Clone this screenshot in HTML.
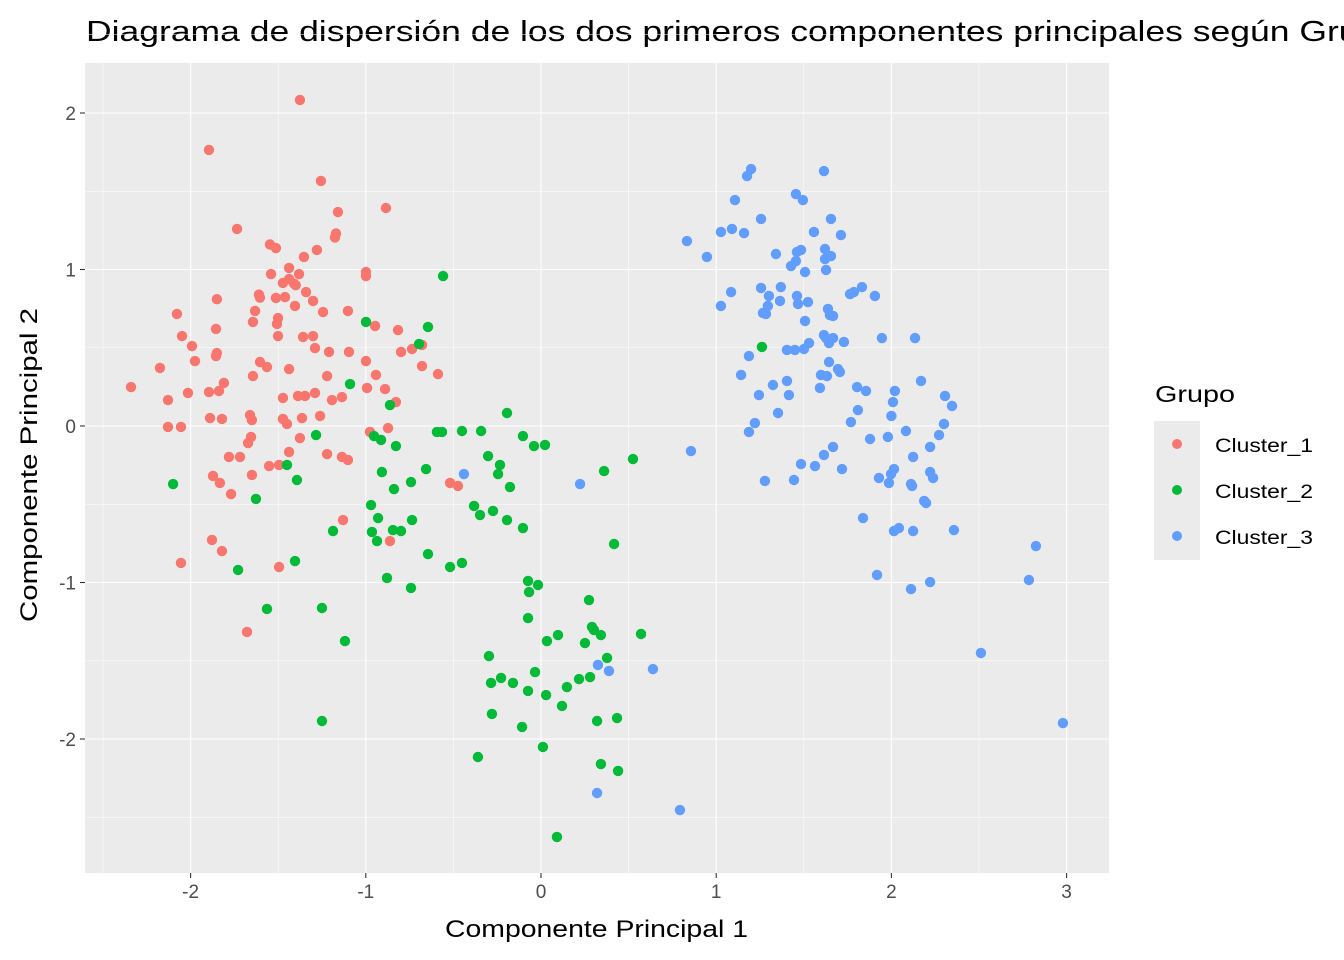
<!DOCTYPE html>
<html><head><meta charset="utf-8"><style>
html,body{margin:0;padding:0;background:#fff;width:1344px;height:960px;overflow:hidden}
svg{display:block;font-family:"Liberation Sans",sans-serif}
</style></head><body>
<svg id="chart" width="1344" height="960">
<text x="86" y="41" font-size="29" textLength="1312" lengthAdjust="spacingAndGlyphs" fill="#000">Diagrama de dispersión de los dos primeros componentes principales según Grupo</text>
<rect x="85" y="63" width="1024" height="810" fill="#ebebeb"/>
<g id="grid"></g>
<g id="points"></g>
<g id="axes"></g>
<text x="445" y="937" font-size="24" textLength="303" lengthAdjust="spacingAndGlyphs">Componente Principal 1</text>
<text transform="translate(37,622) rotate(-90)" font-size="24" textLength="314" lengthAdjust="spacingAndGlyphs">Componente Principal 2</text>
<g>
<text x="1155" y="402" font-size="23" textLength="80" lengthAdjust="spacingAndGlyphs">Grupo</text>
<rect x="1154" y="421" width="46" height="139" fill="#ebebeb"/>
<circle cx="1177" cy="444" r="5" fill="#F8766D"/>
<circle cx="1177" cy="490" r="5" fill="#00BA38"/>
<circle cx="1177" cy="536" r="5" fill="#619CFF"/>
<text x="1215" y="452" font-size="19" textLength="98" lengthAdjust="spacingAndGlyphs">Cluster_1</text>
<text x="1215" y="498" font-size="19" textLength="98" lengthAdjust="spacingAndGlyphs">Cluster_2</text>
<text x="1215" y="544" font-size="19" textLength="98" lengthAdjust="spacingAndGlyphs">Cluster_3</text>
</g>
</svg>
<script>
const xTicks=[-2,-1,0,1,2,3];
const yTicks=[-2,-1,0,1,2];
const c1x=[-1.376,-1.895,-1.256,-0.885,-1.159,-1.735,-1.17,-1.176,-1.547,-1.513,-1.279,-1.353,-0.999,-0.999,-1.541,-1.438,-1.381,-1.438,-1.473,-1.41,-1.4,-1.61,-1.604,-1.85,-1.513,-1.461,-1.341,-1.301,-1.404,-1.244,-1.102,-1.632,-1.644,-1.501,-1.507,-2.078,-1.855,-2.049,-0.947,-0.816,-1.501,-1.358,-1.301,-1.992,-1.85,-1.855,-1.29,-1.21,-1.096,-0.799,-0.736,-0.679,-1.975,-1.604,-1.564,-1.438,-0.999,-0.679,-0.588,-2.175,-2.34,-2.015,-1.895,-1.838,-1.81,-1.644,-1.221,-0.942,-1.29,-1.387,-1.347,-1.136,-1.193,-0.89,-0.993,-1.473,-2.129,-0.828,-1.889,-1.821,-1.473,-1.364,-1.261,-1.661,-1.65,-1.45,-2.129,-2.055,-0.873,-0.976,-1.376,-1.655,-1.672,-1.438,-1.221,-1.781,-1.718,-1.136,-1.102,-1.495,-1.552,-1.65,-1.872,-1.833,-0.519,-0.474,-1.769,-1.13,-0.862,-1.878,-1.821,-2.055,-1.495,-1.678];
const c1y=[2.083,1.764,1.566,1.393,1.367,1.259,1.23,1.205,1.16,1.137,1.125,1.08,0.984,0.958,0.971,1.01,0.971,0.939,0.914,0.91,0.9,0.84,0.82,0.81,0.818,0.824,0.856,0.799,0.767,0.728,0.735,0.735,0.665,0.69,0.652,0.716,0.62,0.575,0.639,0.613,0.575,0.569,0.575,0.511,0.466,0.447,0.498,0.473,0.473,0.473,0.492,0.518,0.415,0.409,0.377,0.364,0.415,0.383,0.332,0.371,0.249,0.211,0.217,0.224,0.275,0.319,0.319,0.326,0.211,0.192,0.192,0.185,0.166,0.236,0.243,0.179,0.166,0.153,0.051,0.045,0.045,0.051,0.064,0.07,0.038,0.013,-0.006,-0.006,-0.013,-0.038,-0.077,-0.07,-0.109,-0.166,-0.179,-0.198,-0.198,-0.198,-0.217,-0.249,-0.256,-0.313,-0.319,-0.364,-0.364,-0.383,-0.435,-0.601,-0.735,-0.728,-0.799,-0.875,-0.901,-1.316];
const c2x=[-0.559,-0.999,-0.645,-0.696,1.261,-1.09,-0.862,-0.194,-0.451,-0.342,-0.103,-0.953,-0.913,-1.284,-0.828,-0.04,0.023,-0.594,-0.565,-0.302,0.525,-0.234,-1.45,-0.656,-0.908,0.36,-0.245,-1.393,-2.1,-0.742,-0.177,-0.839,-1.627,-0.382,-0.97,-0.348,-0.274,-0.93,-0.194,-0.736,-1.187,-0.103,-0.965,-0.845,-0.799,-0.936,0.417,-0.645,-1.404,-0.451,-0.519,-1.729,-0.879,-0.074,-0.017,-0.742,-0.068,0.274,-1.564,-1.25,-0.074,-1.119,0.291,0.302,0.097,0.034,0.571,0.342,0.251,-0.297,0.377,-0.034,-0.228,-0.285,-0.16,0.217,0.28,0.148,-0.074,0.029,0.12,-0.28,0.434,0.32,-1.25,-0.108,0.011,-0.36,0.342,0.44,0.091];
const c2y=[0.958,0.665,0.633,0.524,0.505,0.268,0.134,0.083,-0.032,-0.032,-0.064,-0.064,-0.089,-0.058,-0.128,-0.128,-0.121,-0.038,-0.038,-0.192,-0.211,-0.249,-0.249,-0.275,-0.294,-0.288,-0.307,-0.345,-0.371,-0.358,-0.39,-0.403,-0.466,-0.511,-0.505,-0.569,-0.543,-0.588,-0.601,-0.601,-0.671,-0.652,-0.677,-0.665,-0.671,-0.735,-0.754,-0.818,-0.863,-0.875,-0.901,-0.92,-0.971,-0.99,-1.016,-1.035,-1.061,-1.112,-1.169,-1.163,-1.227,-1.374,-1.284,-1.303,-1.336,-1.374,-1.329,-1.336,-1.387,-1.47,-1.482,-1.572,-1.61,-1.642,-1.642,-1.617,-1.604,-1.668,-1.693,-1.719,-1.789,-1.84,-1.866,-1.885,-1.885,-1.923,-2.051,-2.115,-2.16,-2.204,-2.626];
const c3x=[1.199,1.176,1.615,1.455,1.495,1.107,1.256,1.655,0.833,1.027,1.09,1.159,1.558,1.712,1.484,1.461,1.621,1.341,0.947,1.655,1.621,1.455,1.427,1.507,1.627,1.256,1.301,1.369,1.832,1.786,1.764,1.906,1.085,1.461,1.364,1.524,1.027,1.467,1.295,1.267,1.638,1.649,1.667,1.507,1.284,1.615,1.627,1.946,2.135,1.667,1.729,1.644,1.53,1.501,1.404,1.449,1.187,1.644,1.695,1.706,1.598,1.632,1.142,2.169,1.404,1.324,1.804,1.592,1.855,2.02,2.306,1.415,1.244,2.009,2.346,1.809,1.353,2.0,1.221,1.769,2.3,1.187,2.083,1.878,1.98,2.272,2.221,1.667,0.856,1.615,2.124,1.484,1.564,1.718,2.015,1.998,2.221,2.238,-0.44,1.929,1.986,1.278,1.444,2.112,2.118,0.223,2.187,2.198,1.838,2.357,2.043,2.015,2.124,2.825,1.918,2.785,2.221,2.112,2.511,0.639,0.325,0.388,2.979,0.32,0.793];
const c3y=[1.642,1.597,1.629,1.482,1.444,1.444,1.323,1.323,1.182,1.24,1.259,1.233,1.24,1.22,1.125,1.112,1.131,1.099,1.08,1.086,1.067,1.054,1.022,0.984,0.997,0.882,0.831,0.888,0.888,0.856,0.843,0.831,0.856,0.831,0.799,0.792,0.767,0.78,0.767,0.722,0.748,0.709,0.703,0.671,0.716,0.581,0.562,0.562,0.562,0.562,0.537,0.53,0.53,0.492,0.486,0.486,0.447,0.409,0.364,0.345,0.326,0.319,0.326,0.288,0.288,0.262,0.249,0.243,0.224,0.224,0.192,0.198,0.198,0.153,0.128,0.102,0.083,0.064,0.019,0.025,0.013,-0.038,-0.032,-0.083,-0.07,-0.058,-0.134,-0.134,-0.16,-0.185,-0.198,-0.243,-0.256,-0.275,-0.275,-0.307,-0.294,-0.332,-0.307,-0.332,-0.364,-0.351,-0.345,-0.371,-0.383,-0.371,-0.479,-0.492,-0.588,-0.665,-0.652,-0.671,-0.671,-0.767,-0.952,-0.984,-0.997,-1.042,-1.45,-1.553,-1.527,-1.565,-1.898,-2.345,-2.454];
const NS="http://www.w3.org/2000/svg";
const L=85,R=1109,T=63,B=873;
function sx(v){return 541+v*175.2;}
function sy(v){return 426-v*156.5;}
function mk(tag,attrs,parent){const e=document.createElementNS(NS,tag);for(const k in attrs)e.setAttribute(k,attrs[k]);parent.appendChild(e);return e;}
const grid=document.getElementById('grid'),axes=document.getElementById('axes'),pts=document.getElementById('points');
[-2.5,-1.5,-0.5,0.5,1.5,2.5].forEach(v=>{
 const l=mk('line',{x1:sx(v),x2:sx(v),y1:T,y2:B,stroke:'#fff','stroke-width':0.55},grid);
 
 
 const m=mk('line',{x1:L,x2:R,y1:sy(v),y2:sy(v),stroke:'#fff','stroke-width':0.55},grid);
 
 
});
xTicks.forEach(v=>{
 const l=mk('line',{x1:sx(v),x2:sx(v),y1:T,y2:B,stroke:'#fff','stroke-width':1.1},grid);
 
 
 const t=mk('line',{x1:sx(v),x2:sx(v),y1:B,y2:B+5,stroke:'#333','stroke-width':1.1},axes);
 
 
 const tx=mk('text',{x:sx(v),y:B+25,'font-size':19,fill:'#4d4d4d','text-anchor':'middle'},axes);
 tx.textContent=String(v);
 
 
});
yTicks.forEach(v=>{
 const l=mk('line',{x1:L,x2:R,y1:sy(v),y2:sy(v),stroke:'#fff','stroke-width':1.1},grid);
 
 
 const t=mk('line',{x1:L-5,x2:L,y1:sy(v),y2:sy(v),stroke:'#333','stroke-width':1.1},axes);
 
 
 const tx=mk('text',{x:L-9,y:sy(v)+7,'font-size':19,fill:'#4d4d4d','text-anchor':'end'},axes);
 tx.textContent=String(v);
 
 
});
[[c1x,c1y,'#F8766D','cluster-1'],[c2x,c2y,'#00BA38','cluster-2'],[c3x,c3y,'#619CFF','cluster-3']].forEach(([xs,ys,col,nm])=>{
 xs.forEach((x,i)=>{
  const c=mk('circle',{cx:sx(x),cy:sy(ys[i]),r:5.2,fill:col},pts);
  
  
 });
});
</script>
</body></html>
